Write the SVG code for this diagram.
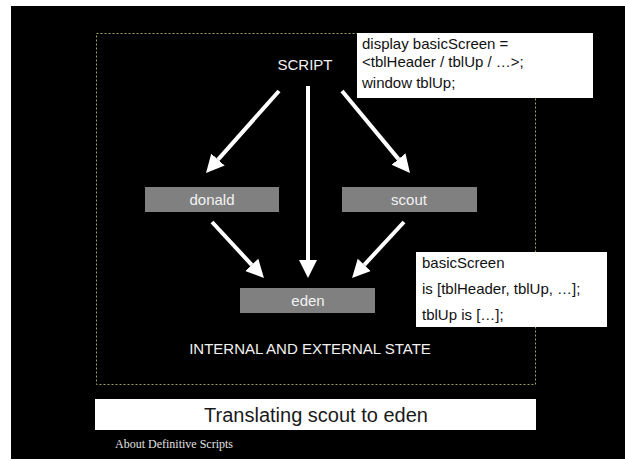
<svg xmlns="http://www.w3.org/2000/svg" width="625" height="461" viewBox="0 0 625 461">
  <style>
    .lbl { font-family: "Liberation Sans", Arial, Helvetica, sans-serif; font-size: 15px; fill: #f2f2f2; text-anchor: middle; }
    .code { font-family: "Liberation Sans", Arial, Helvetica, sans-serif; font-size: 15px; fill: #111; }
    .box { fill: #808080; }
    .note { fill: #ffffff; }
    .arrow { stroke: #ffffff; stroke-width: 4; fill: none; marker-end: url(#head); }
  </style>
  <defs>
    <marker id="head" markerUnits="userSpaceOnUse" markerWidth="19" markerHeight="19" refX="0" refY="9" orient="auto" viewBox="0 0 19 18">
      <path d="M0,0 L18,9 L0,18 z" fill="#ffffff"/>
    </marker>
  </defs>

  <!-- slide background -->
  <rect x="0" y="0" width="625" height="461" fill="#ffffff"/>
  <rect x="11" y="6" width="614" height="453" fill="#000000"/>

  <!-- state boundary -->
  <rect x="96.5" y="33.5" width="439" height="351" fill="none" stroke="#a3a35f" stroke-width="1" stroke-dasharray="2,2"/>

  <!-- connectors -->
  <g id="connectors">
    <line class="arrow" x1="279" y1="91" x2="218" y2="159.6"/>
    <line class="arrow" x1="308" y1="86" x2="308" y2="260"/>
    <line class="arrow" x1="342" y1="91" x2="398.5" y2="159.1"/>
    <line class="arrow" x1="212" y1="222" x2="251.7" y2="264.8"/>
    <line class="arrow" x1="404" y1="222" x2="364.3" y2="264.8"/>
  </g>

  <g id="script">
    <text class="lbl" x="305" y="70" fill="#ffffff">SCRIPT</text>
  </g>

  <g id="donald">
    <rect class="box" x="145" y="187" width="134" height="25"/>
    <text class="lbl" x="212" y="205">donald</text>
  </g>

  <g id="scout">
    <rect class="box" x="342" y="187" width="135" height="25"/>
    <text class="lbl" x="409" y="205">scout</text>
  </g>

  <g id="eden">
    <rect class="box" x="240" y="288" width="135" height="25"/>
    <text class="lbl" x="308" y="306">eden</text>
  </g>

  <g id="state">
    <text class="lbl" x="310" y="354">INTERNAL AND EXTERNAL STATE</text>
  </g>

  <!-- scout definitions -->
  <g id="scout-note">
    <rect class="note" x="357" y="33" width="236" height="65"/>
    <text class="code" x="362" y="49">display basicScreen =</text>
    <text class="code" x="362" y="67">&lt;tblHeader / tblUp / …&gt;;</text>
    <text class="code" x="362" y="88">window tblUp;</text>
  </g>

  <!-- eden definitions -->
  <g id="eden-note">
    <rect class="note" x="416" y="252" width="191" height="75"/>
    <text class="code" x="422" y="268">basicScreen</text>
    <text class="code" x="422" y="294">is [tblHeader, tblUp, …];</text>
    <text class="code" x="422" y="320">tblUp is […];</text>
  </g>

  <!-- title bar -->
  <g id="title">
    <rect x="95" y="399" width="441" height="31" fill="#ffffff"/>
    <text x="316" y="422" font-family="'Liberation Sans', Arial, Helvetica, sans-serif" font-size="20" fill="#1a1a1a" text-anchor="middle">Translating scout to eden</text>
  </g>

  <text x="115" y="448" font-family="'Liberation Serif', 'Times New Roman', serif" font-size="12" fill="#e0e0e0">About Definitive Scripts</text>
</svg>
